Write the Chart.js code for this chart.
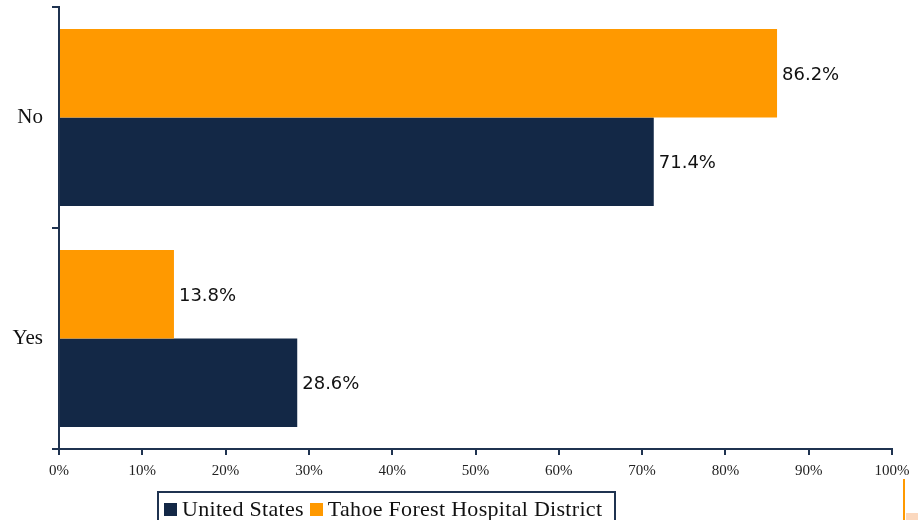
<!DOCTYPE html>
<html>
<head>
<meta charset="utf-8">
<script src="https://cdn.jsdelivr.net/npm/chart.js@4"></script>
<style>
    body { margin: 0; background: #fff; }
    #wrap { position: relative; width: 918px; height: 520px; overflow: hidden; }
    #legend {
        position: absolute; left: 157px; top: 491px; height: 40px;
        border: 2px solid #1f3350; box-sizing: border-box;
        padding: 3px 6px 0 5px; white-space: nowrap;
        font: 22px "Liberation Serif", serif; color: #111; letter-spacing: 0.3px;
    }
    #legend span.sw { display: inline-block; width: 13px; height: 13px; margin-right: 5px; vertical-align: 0px; }
    #legend span.item { margin-right: 6px; }
    .deco { position: absolute; }
</style>
</head>
<body>
<div id="wrap">
    <canvas id="chart" width="918" height="520"></canvas>
    <div id="legend"></div>
    <div class="deco" style="left:903px;top:479px;width:2px;height:41px;background:#FF9900"></div>
    <div class="deco" style="left:906px;top:513px;width:12px;height:7px;background:#FBD8BE"></div>
</div>
<script>
// DATA -----------------------------------------------------------------------

const categories = ['No', 'Yes']
const tahoeValues = [86.2, 13.8]
const usValues = [71.4, 28.6]
const xTicks = [0, 10, 20, 30, 40, 50, 60, 70, 80, 90, 100]

// SETTINGS -------------------------------------------------------------------

const colors = {
    tahoe: '#FF9900',
    us: '#132846',
    axis: '#1f3350'
}
const serif = '"Liberation Serif", serif'

// value labels at the end of each bar
const valueLabels = {
    id: 'valueLabels',
    afterDatasetsDraw(chart) {
        const ctx = chart.ctx
        ctx.save()
        ctx.font = '18px "DejaVu Sans", sans-serif'
        ctx.fillStyle = '#111'
        ctx.textBaseline = 'middle'
        chart.data.datasets.forEach((ds, i) => {
            chart.getDatasetMeta(i).data.forEach((bar, j) => {
                ctx.fillText(ds.data[j].toFixed(1) + '%', bar.x + 5, bar.y + 2)
            })
        })
        ctx.restore()
    }
}

// CHART ----------------------------------------------------------------------

const chart = new Chart(document.getElementById('chart'), {
    type: 'bar',
    data: {
        labels: categories,
        datasets: [
            {label: 'Tahoe Forest Hospital District', data: tahoeValues, backgroundColor: colors.tahoe},
            {label: 'United States', data: usValues, backgroundColor: colors.us}
        ]
    },
    options: {
        responsive: false,
        animation: false,
        devicePixelRatio: 1,
        indexAxis: 'y',
        categoryPercentage: 0.8,
        barPercentage: 1.0,
        layout: {padding: {top: 7, right: 26, left: 0, bottom: 0}},
        plugins: {
            legend: {display: false},
            tooltip: {enabled: false}
        },
        scales: {
            x: {
                min: 0,
                max: 100,
                afterFit: (scale) => { scale.height = 71 },
                afterBuildTicks: (scale) => { scale.ticks = xTicks.map(v => ({value: v})) },
                border: {color: colors.axis, width: 2},
                grid: {drawOnChartArea: false, drawTicks: true, tickLength: 6, color: colors.axis, lineWidth: 2},
                ticks: {
                    padding: 7,
                    color: '#222',
                    font: {family: serif, size: 15},
                    callback: (v) => v + '%'
                }
            },
            y: {
                afterFit: (scale) => {
                    scale.width = 59
                    scale.paddingTop = 0
                    scale.paddingBottom = 0
                },
                border: {color: colors.axis, width: 2},
                grid: {drawOnChartArea: false, drawTicks: true, tickLength: 7, color: colors.axis, lineWidth: 2},
                ticks: {
                    padding: 9,
                    color: '#111',
                    font: {family: serif, size: 21}
                }
            }
        }
    },
    plugins: [valueLabels]
})

// legend: United States first, then Tahoe
const legendEl = document.getElementById('legend')
chart.data.datasets.slice().reverse().forEach(ds => {
    const item = document.createElement('span')
    item.className = 'item'
    item.innerHTML = `<span class="sw" style="background:${ds.backgroundColor}"></span>${ds.label}`
    legendEl.appendChild(item)
})
</script>
</body>
</html>
